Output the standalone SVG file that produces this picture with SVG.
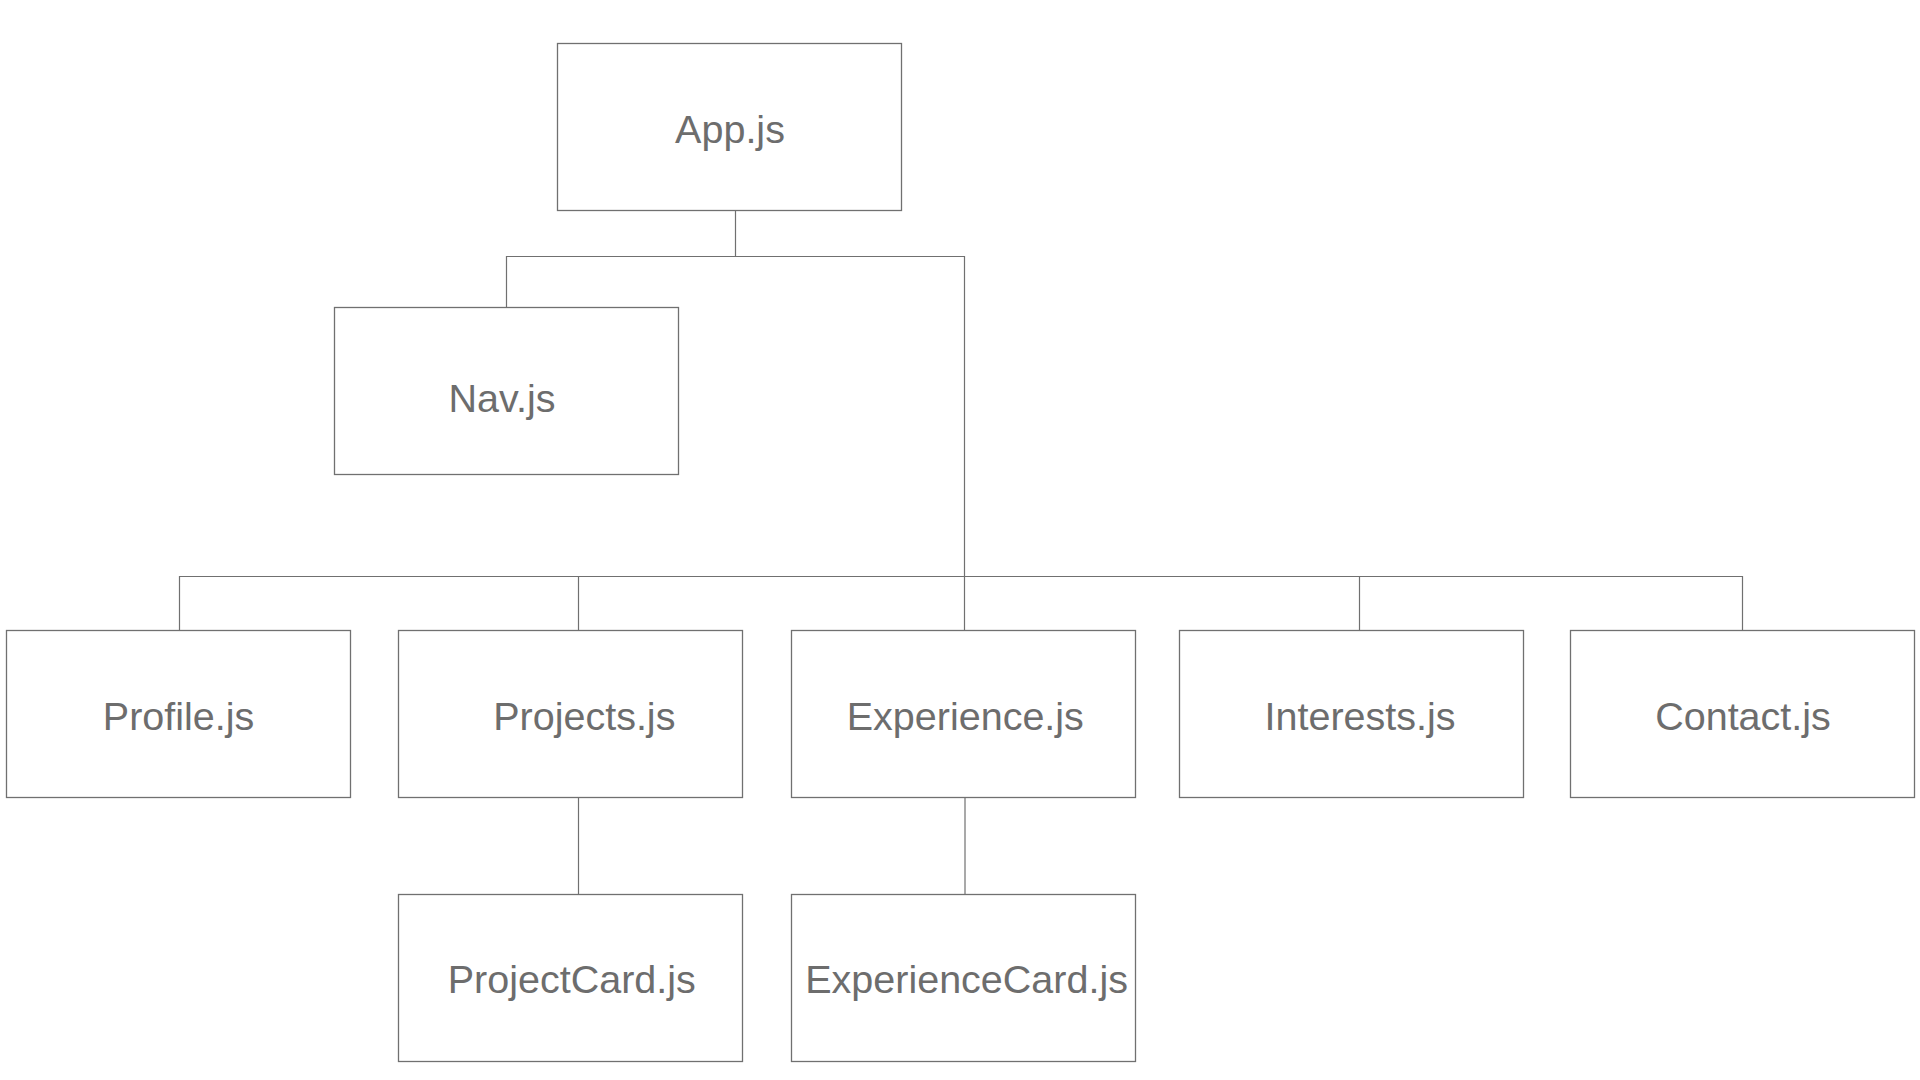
<svg xmlns="http://www.w3.org/2000/svg" width="1920" height="1080" viewBox="0 0 1920 1080">
<style>
.box{fill:#ffffff;stroke:#707070;stroke-width:1.3}
.lbl{font-family:"Liberation Sans",Arial,Helvetica,sans-serif;font-size:39.5px;fill:#6d6d6d;text-anchor:middle}
.conn{fill:none;stroke:#707070;stroke-width:1.2}
</style>
<rect width="1920" height="1080" fill="#ffffff"/>
<g id="connectors" class="conn">
<path d="M735.5 210.5V256.5H506.5V307.5"/>
<path d="M735.5 256.5H964.5V630.5"/>
<path d="M179.5 630.5V576.5H1742.5V630.5"/>
<path d="M578.5 576.5V630.5"/>
<path d="M1359.5 576.5V630.5"/>
<path d="M578.5 797.5V894.5"/>
<path d="M965 797.5V894.5"/>
</g>
<g id="app"><rect class="box" x="557.5" y="43.5" width="344" height="167"/><text class="lbl" x="730" y="143">App.js</text></g>
<g id="nav"><rect class="box" x="334.5" y="307.5" width="344" height="167"/><text class="lbl" x="502" y="412">Nav.js</text></g>
<g id="profile"><rect class="box" x="6.5" y="630.5" width="344" height="167"/><text class="lbl" x="178.6" y="729.5">Profile.js</text></g>
<g id="projects"><rect class="box" x="398.5" y="630.5" width="344" height="167"/><text class="lbl" x="584.3" y="729.5">Projects.js</text></g>
<g id="experience"><rect class="box" x="791.5" y="630.5" width="344" height="167"/><text class="lbl" x="965.3" y="729.5">Experience.js</text></g>
<g id="interests"><rect class="box" x="1179.5" y="630.5" width="344" height="167"/><text class="lbl" x="1360" y="729.5">Interests.js</text></g>
<g id="contact"><rect class="box" x="1570.5" y="630.5" width="344" height="167"/><text class="lbl" x="1743" y="729.5">Contact.js</text></g>
<g id="projectcard"><rect class="box" x="398.5" y="894.5" width="344" height="167"/><text class="lbl" x="571.8" y="993">ProjectCard.js</text></g>
<g id="experiencecard"><rect class="box" x="791.5" y="894.5" width="344" height="167"/><text class="lbl" x="966.6" y="993">ExperienceCard.js</text></g>
</svg>
